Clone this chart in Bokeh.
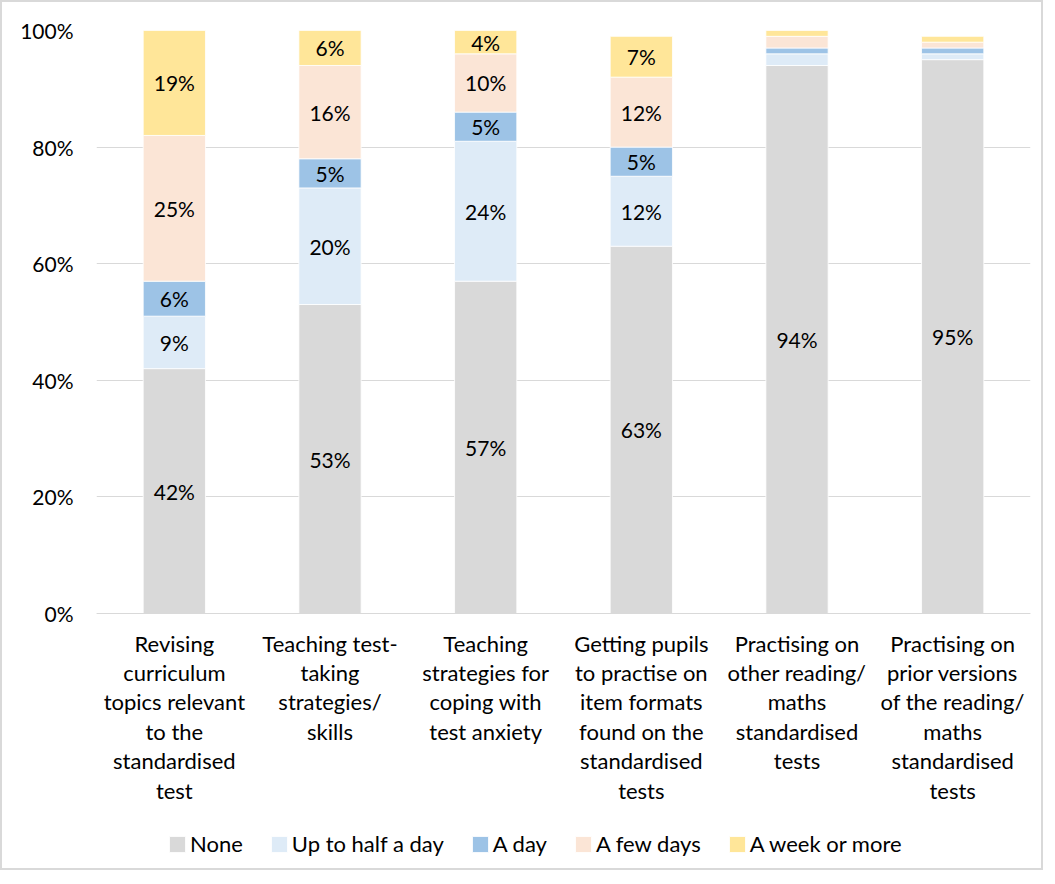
from bokeh.plotting import figure
from bokeh.models import ColumnDataSource, Legend, LegendItem, PrintfTickFormatter, FixedTicker, Range1d, FactorRange, Span
from bokeh.core.properties import value
from bokeh.embed import file_html
from bokeh.resources import INLINE

categories = [
    "Revising\ncurriculum\ntopics relevant\nto the\nstandardised\ntest",
    "Teaching test-\ntaking\nstrategies/\nskills",
    "Teaching\nstrategies for\ncoping with\ntest anxiety",
    "Getting pupils\nto practise on\nitem formats\nfound on the\nstandardised\ntests",
    "Practising on\nother reading/\nmaths\nstandardised\ntests",
    "Practising on\nprior versions\nof the reading/\nmaths\nstandardised\ntests",
]
series_names = ["None", "Up to half a day", "A day", "A few days", "A week or more"]
none_vals = [42, 53, 57, 63, 94, 95]
half_day_vals = [9, 20, 24, 12, 2, 1]
a_day_vals = [6, 5, 5, 5, 1, 1]
few_days_vals = [25, 16, 10, 12, 2, 1]
week_vals = [19, 6, 4, 7, 1, 1]
y_ticks = [0, 20, 40, 60, 80, 100]
colors = ["#D9D9D9", "#DEEBF7", "#9DC3E6", "#FBE5D6", "#FFE699"]
series = [none_vals, half_day_vals, a_day_vals, few_days_vals, week_vals]

FONT = "Lato"

# layout: the value axis (0-100) occupies the top 583 px of an 834 px frame;
# the space below holds the category labels and the legend
FRAME_H = 834
VALUE_H = 583
y_start = -100.0 * (FRAME_H - VALUE_H) / VALUE_H

p = figure(frame_width=934, frame_height=FRAME_H, x_range=FactorRange(*categories),
           y_range=Range1d(y_start, 100),
           output_backend="svg", toolbar_location=None,
           min_border_left=94, min_border_right=11, min_border_top=28, min_border_bottom=4)
p.styles = {"border": "2px solid #D9D9D9"}
p.outline_line_color = None
p.background_fill_color = "white"

bottoms = [0] * len(categories)
items = []
lab_x, lab_y, lab_t = [], [], []
for name, vals, col in zip(series_names, series, colors):
    tops = [min(b + v, 100) for b, v in zip(bottoms, vals)]
    src = ColumnDataSource(dict(x=categories, bottom=bottoms, top=tops))
    r = p.vbar(x="x", bottom="bottom", top="top", width=0.4, source=src,
               fill_color=col, line_color="white", line_width=0.8)
    items.append(LegendItem(label=name, renderers=[r]))
    for k, b, t, v in zip(categories, bottoms, tops, vals):
        if v >= 4:
            lab_x.append(k)
            lab_y.append((b + t) / 2)
            lab_t.append(f"{v}%")
    bottoms = tops

p.text(x=lab_x, y=lab_y, text=lab_t, text_align="center", text_baseline="middle",
       text_font=value(FONT), text_font_size="21px", text_color="#000000")

# baseline (x axis line)
p.add_layout(Span(location=0, dimension="width", line_color="#D9D9D9", line_width=1))

# category labels below the baseline
p.text(x=categories, y=[0] * len(categories), text=categories, text_align="center",
       text_baseline="top", y_offset=16, text_font=value(FONT), text_font_size="22px",
       text_color="#000000", text_line_height=1.09)

p.xaxis.visible = False
p.xgrid.grid_line_color = None
p.ygrid.grid_line_color = "#D9D9D9"
p.ygrid.grid_line_width = 1
p.yaxis.ticker = FixedTicker(ticks=y_ticks)
p.yaxis.formatter = PrintfTickFormatter(format="%d%%")
p.yaxis.axis_line_color = None
p.yaxis.major_tick_line_color = None
p.yaxis.minor_tick_line_color = None
p.yaxis.major_label_text_font = FONT
p.yaxis.major_label_text_font_size = "21px"
p.yaxis.major_label_text_color = "#000000"
p.yaxis.major_label_standoff = 17

legend = Legend(items=items, orientation="horizontal", location=(71, 7),
                label_text_font=FONT, label_text_font_size="22px", label_text_color="#000000",
                glyph_width=20, glyph_height=20, spacing=26, label_standoff=3,
                border_line_color=None, background_fill_alpha=0, margin=0, padding=0)
p.add_layout(legend, "center")

open("out.html", "w").write(file_html(p, INLINE))
